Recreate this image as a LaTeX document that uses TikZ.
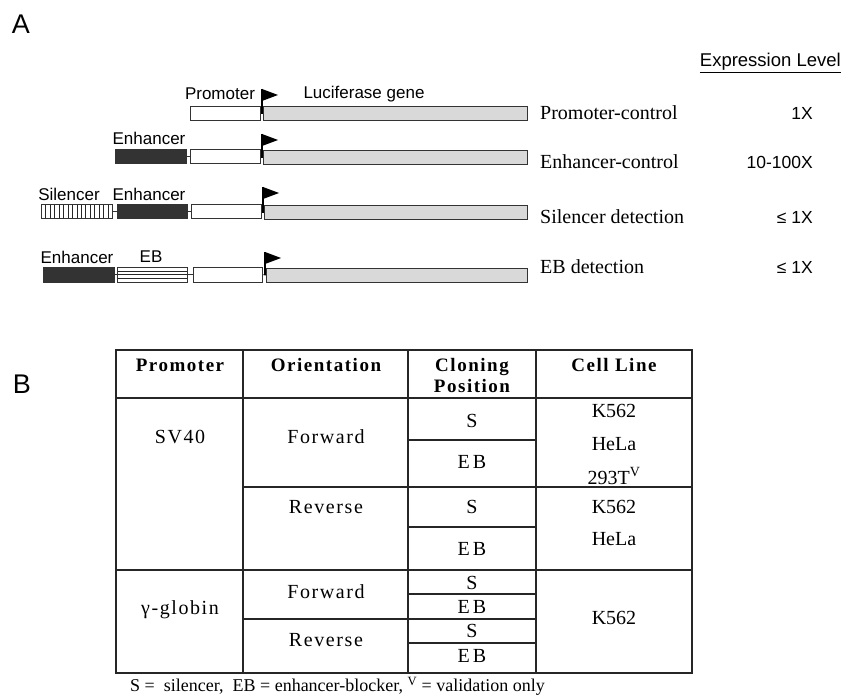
\documentclass[tikz,border=0pt]{standalone}
\usepackage{fontspec}
\setmainfont{Liberation Serif}
\newfontfamily\arial{Liberation Sans}
\newfontfamily\spaced[LetterSpace=8]{Liberation Serif}
\newcommand{\ebtext}{E\hspace{3pt}B}
\begin{document}
\begin{tikzpicture}[x=1pt,y=-1pt,
  box/.style={draw=black!80, line width=0.8pt, inner sep=0pt, minimum height=14.5pt, anchor=north west},
  prombox/.style={box, fill=white},
  lucbox/.style={box, fill=black!15},
  enhbox/.style={box, fill=black!80},
  silbox/.style={box, fill=white, path picture={
     \foreach \k in {1,...,15}{\draw[line width=0.9pt,black!85] ([xshift=\k*4.45pt]path picture bounding box.south west) -- ([xshift=\k*4.45pt]path picture bounding box.north west);}}},
  ebbox/.style={box, fill=white, path picture={
     \foreach \k in {1,2,3}{\draw[line width=1pt,black!85] ([yshift=\k*3.6pt]path picture bounding box.south west) -- ([yshift=\k*3.6pt]path picture bounding box.south east);}}},
  conn/.style={draw=black!80, line width=0.8pt},
  pole/.style={draw=black, line width=1.6pt},
  flag/.style={fill=black},
  lbl/.style={font=\arial\fontsize{17}{19}\selectfont, inner sep=0pt},
  rlbl/.style={font=\fontsize{20}{22}\selectfont, inner sep=0pt, anchor=west},
  expr/.style={font=\arial\fontsize{17.5}{19}\selectfont, inner sep=0pt, anchor=east},
  panel/.style={font=\arial\fontsize{27}{30}\selectfont, inner sep=0pt},
  tline/.style={draw=black!85, line width=1.2pt},
  hd/.style={font=\spaced\bfseries\fontsize{19}{22}\selectfont, inner sep=0pt, align=center},
  cell/.style={font=\spaced\fontsize{20}{22}\selectfont, inner sep=0pt},
  plaincell/.style={font=\fontsize{20}{22}\selectfont, inner sep=0pt},
  ]
\useasboundingbox (0,0) rectangle (851,695);

% panel letters
\node[panel] (A) at (21,24) {A};
\node[panel] (B) at (22,384) {B};

% ---------- Panel A ----------
\node[lbl, anchor=east] (exphd) at (841,63) {\fontsize{18.5}{20}\selectfont\underline{Expression Level}};

% row 1
\node[prombox, minimum width=70pt] (p1) at (190,106) {};
\node[lucbox, minimum width=264pt] (l1) at (263,106) {};
\draw[conn] (p1.east) -- (l1.west);
\coordinate (f1) at (262,89);
\draw[pole] (f1) -- (f1 |- l1.center);
\fill[flag] (f1) -- ++(16,6) -- ++(-16,6) -- cycle;
\node[lbl] (t1a) at (220,94) {Promoter};
\node[lbl] (t1b) at (364,94) {Luciferase gene};
\node[rlbl] (r1) at (540,113) {Promoter-control};
\node[expr] (x1) at (813,113) {1X};

% row 2
\node[enhbox, minimum width=71pt] (e2) at (115,149) {};
\node[prombox, minimum width=70pt] (p2) at (190,149) {};
\node[lucbox, minimum width=264pt] (l2) at (263,150) {};
\draw[conn] (e2.east) -- (p2.west);
\draw[conn] (p2.east) -- (l2.west);
\coordinate (f2) at (262,134);
\draw[pole] (f2) -- (f2 |- l2.center);
\fill[flag] (f2) -- ++(16,6) -- ++(-16,6) -- cycle;
\node[lbl] (t2a) at (149,138) {Enhancer};
\node[rlbl] (r2) at (540,162) {Enhancer-control};
\node[expr] (x2) at (813,162) {10-100X};

% row 3
\node[silbox, minimum width=71pt] (s3) at (41,204) {};
\node[enhbox, minimum width=70pt] (e3) at (117,204) {};
\node[prombox, minimum width=70pt] (p3) at (191,204) {};
\node[lucbox, minimum width=263pt] (l3) at (264,205) {};
\draw[conn] (s3.east) -- (e3.west);
\draw[conn] (e3.east) -- (p3.west);
\draw[conn] (p3.east) -- (l3.west);
\coordinate (f3) at (263,187);
\draw[pole] (f3) -- (f3 |- l3.center);
\fill[flag] (f3) -- ++(16,6) -- ++(-16,6) -- cycle;
\node[lbl] (t3a) at (69,194) {Silencer};
\node[lbl] (t3b) at (149,194) {Enhancer};
\node[rlbl] (r3) at (540,217) {Silencer detection};
\node[expr] (x3) at (813,217) {≤ 1X};

% row 4
\node[enhbox, minimum width=71pt] (e4) at (43,267) {};
\node[ebbox, minimum width=70pt] (b4) at (117,267) {};
\node[prombox, minimum width=69pt] (p4) at (193,267) {};
\node[lucbox, minimum width=261pt] (l4) at (266,267.5) {};
\draw[conn] (e4.east) -- (b4.west);
\draw[conn] (b4.east) -- (p4.west);
\draw[conn] (p4.east) -- (l4.west);
\coordinate (f4) at (265,252);
\draw[pole] (f4) -- (f4 |- l4.center);
\fill[flag] (f4) -- ++(16,6) -- ++(-16,6) -- cycle;
\node[lbl] (t4a) at (77,257) {Enhancer};
\node[lbl] (t4b) at (151,257) {EB};
\node[rlbl] (r4) at (540,267) {EB detection};
\node[expr] (x4) at (813,267) {≤ 1X};

% ---------- Panel B : table ----------
\draw[tline] (116,350) rectangle (692,673);
\draw[tline] (116,398) -- (692,398);
\draw[tline] (243,350) -- (243,673);
\draw[tline] (408,350) -- (408,673);
\draw[tline] (536,350) -- (536,673);
\draw[tline] (116,570) -- (692,570);
\draw[tline] (243,487) -- (692,487);
\draw[tline] (243,619) -- (536,619);
\draw[tline] (408,440) -- (536,440);
\draw[tline] (408,527) -- (536,527);
\draw[tline] (408,594) -- (536,594);
\draw[tline] (408,643) -- (536,643);

% headers
\node[hd] (h1) at (180,365) {Promoter};
\node[hd] (h2) at (326,365) {Orientation};
\node[hd] (h3) at (472,375) {Cloning\\[-1pt]Position};
\node[hd] (h4) at (614,365) {Cell Line};

% SV40 block
\node[cell] (c1) at (180,437) {SV40};
\node[cell] (c2) at (326,437) {Forward};
\node[plaincell] (c3) at (472,421) {S};
\node[plaincell] (c4) at (472,462) {\ebtext};
\node[plaincell] (c5) at (614,411) {K562};
\node[plaincell] (c6) at (614,444) {HeLa};
\node[plaincell] (c7) at (614,476) {293T\textsuperscript{V}};
\node[cell] (c8) at (326,507) {Reverse};
\node[plaincell] (c9) at (472,507) {S};
\node[plaincell] (c10) at (472,549) {\ebtext};
\node[plaincell] (c11) at (614,507) {K562};
\node[plaincell] (c12) at (614,539) {HeLa};

% gamma-globin block
\node[cell] (g1) at (180,610) {γ-globin};
\node[cell] (g2) at (326,592) {Forward};
\node[cell] (g3) at (326,640) {Reverse};
\node[plaincell] (g4) at (472,583) {S};
\node[plaincell] (g5) at (472,607) {\ebtext};
\node[plaincell] (g6) at (472,631) {S};
\node[plaincell] (g7) at (472,656) {\ebtext};
\node[plaincell] (g8) at (614,618) {K562};

% footnote
\node[font=\fontsize{18}{20}\selectfont, inner sep=0pt, anchor=west] (foot) at (130,686) {S =\ \ silencer,\ \ EB = enhancer-blocker, \textsuperscript{V} = validation only};
\end{tikzpicture}
\end{document}
